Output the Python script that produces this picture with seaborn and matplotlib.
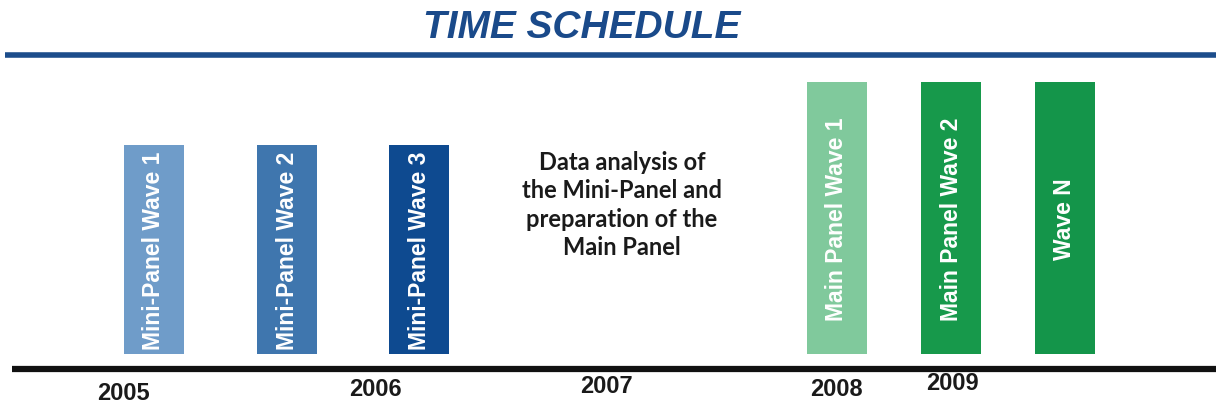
import matplotlib
matplotlib.use("Agg")
import matplotlib.pyplot as plt
from matplotlib import font_manager
import seaborn as sns

# bars of the schedule (x = position on the timeline, height = bar size)
labels = ["Mini-Panel Wave 1", "Mini-Panel Wave 2", "Mini-Panel Wave 3",
          "Main Panel Wave 1", "Main Panel Wave 2", "Wave N"]
centers = [154, 287, 419, 836.5, 951, 1064.5]
heights = [209, 209, 209, 272, 272, 272]
colors = ["#6f9cc9", "#3f76ae", "#0e4a90", "#80c99c", "#17994b", "#14954a"]

# year labels under the baseline
years = ["2005", "2006", "2007", "2008", "2009"]
year_x = [123, 375, 606, 836, 952]
year_y = [-39, -35, -32, -35, -29]

title = "TIME SCHEDULE"
note = "Data analysis of\nthe Mini-Panel and\npreparation of the\nMain Panel"

sns.set_theme(style="white")
names = {f.name for f in font_manager.fontManager.ttflist}
narrow = "Liberation Sans Narrow" if "Liberation Sans Narrow" in names else "Liberation Sans"
plt.rcParams["font.family"] = ["Liberation Sans", "DejaVu Sans"]

fig = plt.figure(figsize=(12.16, 4.10), dpi=100)
ax = fig.add_axes([0, 0, 1, 1])

sns.barplot(x=centers, y=heights, hue=labels, palette=colors, native_scale=True,
            dodge=False, width=60 / 113.5, saturation=1, linewidth=0,
            legend=False, ax=ax)

for c, h, lab in zip(centers, heights, labels):
    ax.text(c, h / 2, lab, rotation=90, ha="center", va="center", color="white",
            fontsize=19 if narrow != "Liberation Sans" else 16.5, fontweight="bold",
            family=narrow)

# top blue rule and bottom black timeline
ax.plot([5, 1216], [299, 299], color="#1c4d8b", lw=4, solid_capstyle="butt")
ax.plot([12, 1216], [-15, -15], color="#111111", lw=4.5, solid_capstyle="butt")

ax.text(582, 327, title, ha="center", va="center", color="#1a4a8a",
        fontsize=28, fontweight="bold", fontstyle="italic", family=narrow)

ax.text(622, 150, note, ha="center", va="center", color="#1a1a1a",
        fontsize=17, fontweight="bold", linespacing=1.27, family="Lato")

for yr, x, y in zip(years, year_x, year_y):
    ax.text(x, y, yr, ha="center", va="center", color="#1a1a1a",
            fontsize=17, fontweight="bold", family=narrow)

ax.set_xlim(0, 1216)
ax.set_ylim(-55, 355)
ax.axis("off")

fig.savefig("out.png", dpi=100, facecolor="white")
